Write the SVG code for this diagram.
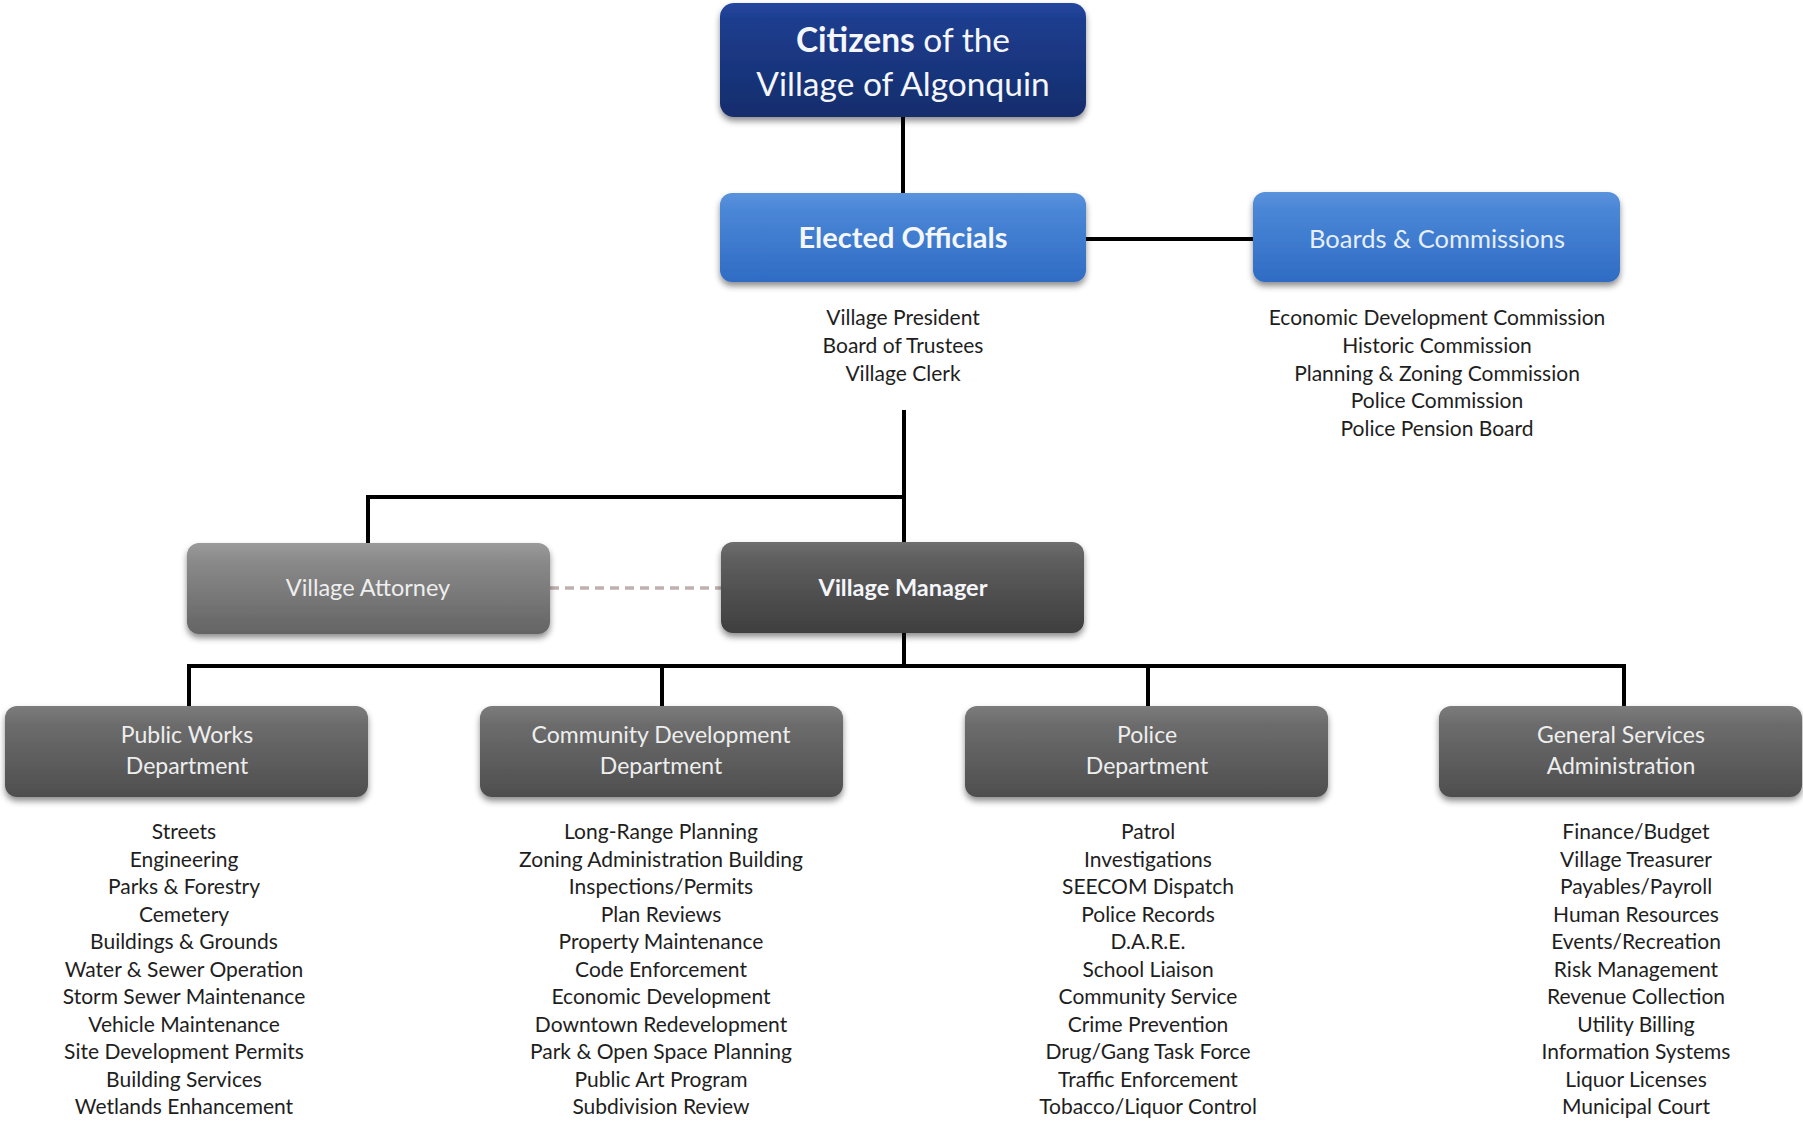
<svg xmlns="http://www.w3.org/2000/svg" width="1803" height="1121" viewBox="0 0 1803 1121">
<style>
.lbl{font-family:Lato,"Open Sans","Liberation Sans",sans-serif;text-anchor:middle;}
.list{font-family:Lato,"Open Sans","Liberation Sans",sans-serif;font-size:21px;fill:#1e1e1e;text-anchor:middle;}
.wl{fill:#f4f6fa;}
.conn{stroke:#000;stroke-width:4;fill:none;}
</style>
<defs>
<filter id="sh" x="-10%" y="-20%" width="120%" height="150%">
<feDropShadow dx="0" dy="4" stdDeviation="3" flood-color="#000" flood-opacity="0.45"/>
</filter>
<linearGradient id="gNavy" x1="0" y1="0" x2="0" y2="1">
<stop offset="0" stop-color="#2447a0"/><stop offset="0.15" stop-color="#1d3d8e"/><stop offset="1" stop-color="#152d6c"/>
</linearGradient>
<linearGradient id="gBlue" x1="0" y1="0" x2="0" y2="1">
<stop offset="0" stop-color="#5a92dc"/><stop offset="0.2" stop-color="#4a86d6"/><stop offset="1" stop-color="#2f6cc4"/>
</linearGradient>
<linearGradient id="gAtt" x1="0" y1="0" x2="0" y2="1">
<stop offset="0" stop-color="#9a9a9a"/><stop offset="0.2" stop-color="#8a8a8a"/><stop offset="1" stop-color="#646464"/>
</linearGradient>
<linearGradient id="gMgr" x1="0" y1="0" x2="0" y2="1">
<stop offset="0" stop-color="#6e6e6e"/><stop offset="0.2" stop-color="#5e5e5e"/><stop offset="1" stop-color="#3e3e3e"/>
</linearGradient>
<linearGradient id="gDept" x1="0" y1="0" x2="0" y2="1">
<stop offset="0" stop-color="#7c7c7c"/><stop offset="0.2" stop-color="#6c6c6c"/><stop offset="1" stop-color="#4e4e4e"/>
</linearGradient>
</defs>

<g id="connectors">
<line class="conn" x1="903" y1="117" x2="903" y2="193"/>
<line class="conn" x1="1086" y1="239" x2="1253" y2="239"/>
<polyline class="conn" points="904,410 904,543"/>
<polyline class="conn" points="368,543 368,497 904,497"/>
<line x1="550" y1="588" x2="721" y2="588" stroke="#c0b0b0" stroke-width="3.5" stroke-dasharray="9,6"/>
<line class="conn" x1="904" y1="633" x2="904" y2="666"/>
<line class="conn" x1="187" y1="666" x2="1626" y2="666"/>
<line class="conn" x1="189" y1="666" x2="189" y2="706"/>
<line class="conn" x1="662" y1="666" x2="662" y2="706"/>
<line class="conn" x1="1148" y1="666" x2="1148" y2="706"/>
<line class="conn" x1="1624" y1="666" x2="1624" y2="706"/>
</g>

<g id="citizens">
<rect x="720" y="3" width="366" height="114" rx="14" fill="url(#gNavy)" filter="url(#sh)"/>
<text class="lbl wl" x="903" y="52" font-size="33.5"><tspan font-weight="bold">Citizens</tspan> of the</text>
<text class="lbl wl" x="903" y="96" font-size="33.5">Village of Algonquin</text>
</g>

<g id="elected">
<rect x="720" y="193" width="366" height="89" rx="12" fill="url(#gBlue)" filter="url(#sh)"/>
<text class="lbl wl" x="903" y="248" font-size="29" font-weight="bold">Elected Officials</text>
<text class="list" x="903" y="325">Village President</text>
<text class="list" x="903" y="353">Board of Trustees</text>
<text class="list" x="903" y="381">Village Clerk</text>
</g>

<g id="boards">
<rect x="1253" y="192" width="367" height="90" rx="12" fill="url(#gBlue)" filter="url(#sh)"/>
<text class="lbl" x="1437" y="248" font-size="25.5" fill="#e6eefa">Boards &amp; Commissions</text>
<text class="list" x="1437" y="325">Economic Development Commission</text>
<text class="list" x="1437" y="353">Historic Commission</text>
<text class="list" x="1437" y="381">Planning &amp; Zoning Commission</text>
<text class="list" x="1437" y="408">Police Commission</text>
<text class="list" x="1437" y="436">Police Pension Board</text>
</g>

<g id="attorney">
<rect x="187" y="543" width="363" height="91" rx="12" fill="url(#gAtt)" filter="url(#sh)"/>
<text class="lbl" x="368" y="596" font-size="23.5" fill="#eeeeee">Village Attorney</text>
</g>

<g id="manager">
<rect x="721" y="542" width="363" height="91" rx="12" fill="url(#gMgr)" filter="url(#sh)"/>
<text class="lbl wl" x="903" y="596" font-size="23.5" font-weight="bold">Village Manager</text>
</g>

<g id="public-works">
<rect x="5" y="706" width="363" height="91" rx="12" fill="url(#gDept)" filter="url(#sh)"/>
<text class="lbl" x="187" y="743" font-size="23" fill="#eeeeee">Public Works</text>
<text class="lbl" x="187" y="774" font-size="23" fill="#eeeeee">Department</text>
<text class="list" x="184" y="839">Streets</text>
<text class="list" x="184" y="866.5">Engineering</text>
<text class="list" x="184" y="894">Parks &amp; Forestry</text>
<text class="list" x="184" y="921.5">Cemetery</text>
<text class="list" x="184" y="949">Buildings &amp; Grounds</text>
<text class="list" x="184" y="976.5">Water &amp; Sewer Operation</text>
<text class="list" x="184" y="1004">Storm Sewer Maintenance</text>
<text class="list" x="184" y="1031.5">Vehicle Maintenance</text>
<text class="list" x="184" y="1059">Site Development Permits</text>
<text class="list" x="184" y="1086.5">Building Services</text>
<text class="list" x="184" y="1114">Wetlands Enhancement</text>
</g>

<g id="community-development">
<rect x="480" y="706" width="363" height="91" rx="12" fill="url(#gDept)" filter="url(#sh)"/>
<text class="lbl" x="661" y="743" font-size="23" fill="#eeeeee">Community Development</text>
<text class="lbl" x="661" y="774" font-size="23" fill="#eeeeee">Department</text>
<text class="list" x="661" y="839">Long-Range Planning</text>
<text class="list" x="661" y="866.5">Zoning Administration Building</text>
<text class="list" x="661" y="894">Inspections/Permits</text>
<text class="list" x="661" y="921.5">Plan Reviews</text>
<text class="list" x="661" y="949">Property Maintenance</text>
<text class="list" x="661" y="976.5">Code Enforcement</text>
<text class="list" x="661" y="1004">Economic Development</text>
<text class="list" x="661" y="1031.5">Downtown Redevelopment</text>
<text class="list" x="661" y="1059">Park &amp; Open Space Planning</text>
<text class="list" x="661" y="1086.5">Public Art Program</text>
<text class="list" x="661" y="1114">Subdivision Review</text>
</g>

<g id="police">
<rect x="965" y="706" width="363" height="91" rx="12" fill="url(#gDept)" filter="url(#sh)"/>
<text class="lbl" x="1147" y="743" font-size="23" fill="#eeeeee">Police</text>
<text class="lbl" x="1147" y="774" font-size="23" fill="#eeeeee">Department</text>
<text class="list" x="1148" y="839">Patrol</text>
<text class="list" x="1148" y="866.5">Investigations</text>
<text class="list" x="1148" y="894">SEECOM Dispatch</text>
<text class="list" x="1148" y="921.5">Police Records</text>
<text class="list" x="1148" y="949">D.A.R.E.</text>
<text class="list" x="1148" y="976.5">School Liaison</text>
<text class="list" x="1148" y="1004">Community Service</text>
<text class="list" x="1148" y="1031.5">Crime Prevention</text>
<text class="list" x="1148" y="1059">Drug/Gang Task Force</text>
<text class="list" x="1148" y="1086.5">Traffic Enforcement</text>
<text class="list" x="1148" y="1114">Tobacco/Liquor Control</text>
</g>

<g id="general-services">
<rect x="1439" y="706" width="363" height="91" rx="12" fill="url(#gDept)" filter="url(#sh)"/>
<text class="lbl" x="1621" y="743" font-size="23" fill="#eeeeee">General Services</text>
<text class="lbl" x="1621" y="774" font-size="23" fill="#eeeeee">Administration</text>
<text class="list" x="1636" y="839">Finance/Budget</text>
<text class="list" x="1636" y="866.5">Village Treasurer</text>
<text class="list" x="1636" y="894">Payables/Payroll</text>
<text class="list" x="1636" y="921.5">Human Resources</text>
<text class="list" x="1636" y="949">Events/Recreation</text>
<text class="list" x="1636" y="976.5">Risk Management</text>
<text class="list" x="1636" y="1004">Revenue Collection</text>
<text class="list" x="1636" y="1031.5">Utility Billing</text>
<text class="list" x="1636" y="1059">Information Systems</text>
<text class="list" x="1636" y="1086.5">Liquor Licenses</text>
<text class="list" x="1636" y="1114">Municipal Court</text>
</g>
</svg>
